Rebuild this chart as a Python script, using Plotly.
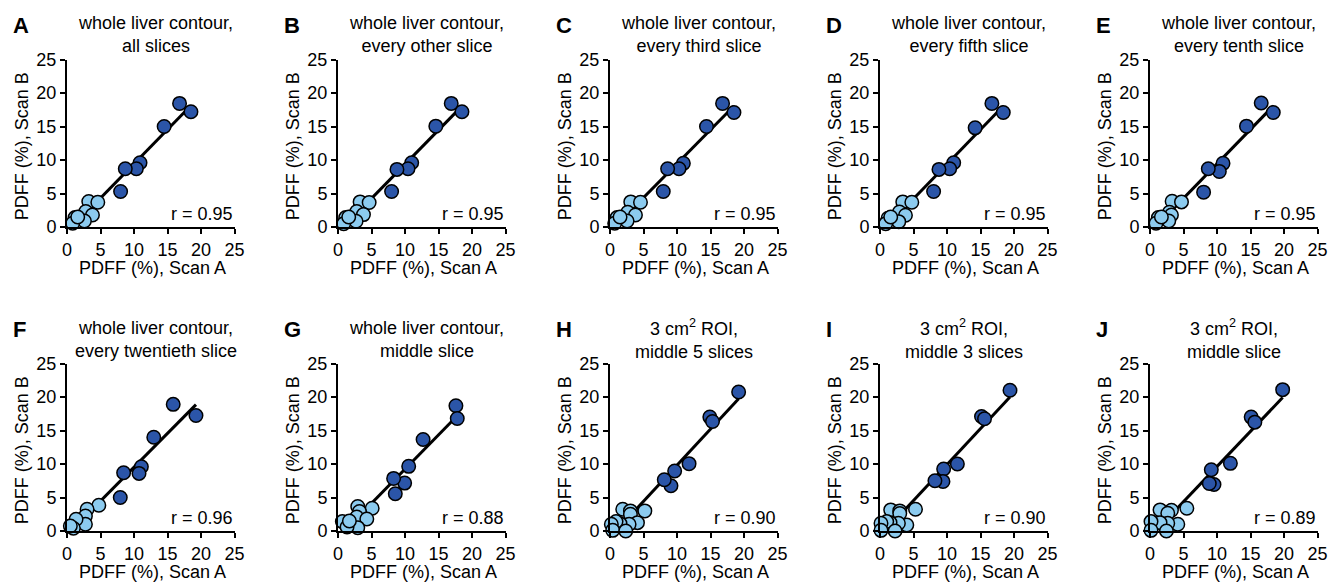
import numpy as np
import plotly.graph_objects as go
from plotly.subplots import make_subplots

# panel labels, titles and correlation coefficients
letters = ['A', 'B', 'C', 'D', 'E', 'F', 'G', 'H', 'I', 'J']
titles = ['whole liver contour,<br>all slices',
          'whole liver contour,<br>every other slice',
          'whole liver contour,<br>every third slice',
          'whole liver contour,<br>every fifth slice',
          'whole liver contour,<br>every tenth slice',
          'whole liver contour,<br>every twentieth slice',
          'whole liver contour,<br>middle slice',
          '3 cm<sup>2</sup> ROI,<br>middle 5 slices',
          '3 cm<sup>2</sup> ROI,<br>middle 3 slices',
          '3 cm<sup>2</sup> ROI,<br>middle slice']
r_labels = ['r = 0.95', 'r = 0.95', 'r = 0.95', 'r = 0.95', 'r = 0.95',
            'r = 0.96', 'r = 0.88', 'r = 0.90', 'r = 0.90', 'r = 0.89']
ticks = [0, 5, 10, 15, 20, 25]

# PDFF values (%), Scan A (x) vs Scan B (y); hi = dark markers, lo = light markers
a_hi_x = [16.8, 18.5, 14.5, 10.9, 10.35, 8.7, 8.0]
a_hi_y = [18.45, 17.2, 15.0, 9.6, 8.7, 8.7, 5.3]
a_lo_x = [3.25, 4.6, 2.8, 3.8, 2.6, 1.2, 0.85, 1.6]
a_lo_y = [3.8, 3.7, 2.3, 1.8, 0.9, 1.4, 0.55, 1.5]

b_hi_x = [16.9, 18.5, 14.6, 11.0, 10.45, 8.8, 8.0]
b_hi_y = [18.45, 17.2, 15.05, 9.6, 8.7, 8.6, 5.3]
b_lo_x = [3.3, 4.65, 2.8, 3.8, 2.7, 1.15, 0.85, 1.6]
b_lo_y = [3.75, 3.65, 2.3, 1.85, 0.85, 1.4, 0.5, 1.5]

c_hi_x = [16.8, 18.5, 14.4, 10.95, 10.3, 8.6, 7.95]
c_hi_y = [18.45, 17.1, 15.0, 9.5, 8.7, 8.7, 5.3]
c_lo_x = [3.1, 4.55, 2.65, 3.8, 2.55, 1.05, 0.7, 1.5]
c_lo_y = [3.75, 3.7, 2.2, 1.8, 0.9, 1.4, 0.55, 1.5]

d_hi_x = [16.7, 18.4, 14.2, 11.0, 10.4, 8.8, 8.0]
d_hi_y = [18.45, 17.1, 14.8, 9.6, 8.7, 8.6, 5.3]
d_lo_x = [3.4, 4.75, 2.9, 3.8, 2.8, 1.2, 0.85, 1.6]
d_lo_y = [3.75, 3.7, 2.25, 1.75, 0.8, 1.3, 0.5, 1.5]

e_hi_x = [16.6, 18.4, 14.4, 10.9, 10.35, 8.7, 8.0]
e_hi_y = [18.5, 17.1, 15.05, 9.5, 8.3, 8.7, 5.2]
e_lo_x = [3.3, 4.7, 2.9, 3.2, 2.8, 1.25, 0.9, 1.7]
e_lo_y = [3.85, 3.75, 2.2, 1.8, 0.9, 1.4, 0.55, 1.5]

f_hi_x = [15.85, 19.25, 12.95, 11.1, 10.75, 8.45, 7.95]
f_hi_y = [18.9, 17.25, 14.0, 9.6, 8.6, 8.7, 5.0]
f_lo_x = [4.75, 3.0, 2.75, 2.75, 1.35, 0.95, 0.5]
f_lo_y = [3.85, 3.25, 2.25, 1.0, 1.75, 0.4, 0.75]

g_hi_x = [17.6, 17.8, 12.7, 10.55, 9.95, 8.3, 8.55]
g_hi_y = [18.7, 16.8, 13.65, 9.65, 7.15, 7.85, 5.55]
g_lo_x = [5.1, 2.95, 3.2, 2.8, 4.3, 2.95, 0.65, 1.35, 1.7]
g_lo_y = [3.4, 3.65, 2.9, 2.1, 1.8, 0.5, 1.4, 0.6, 1.5]

h_hi_x = [19.2, 14.9, 15.3, 11.8, 9.65, 9.1, 8.1]
h_hi_y = [20.75, 17.0, 16.35, 10.05, 8.95, 6.75, 7.65]
h_lo_x = [5.2, 1.9, 3.05, 3.05, 4.1, 2.85, 1.5, 0.9, 0.2, 0.4, 2.35]
h_lo_y = [3.0, 3.25, 3.0, 2.5, 1.25, 1.0, 1.1, 1.4, 1.0, 0.1, 0.0]

i_hi_x = [19.4, 15.15, 15.6, 11.55, 9.5, 9.4, 8.2]
i_hi_y = [21.0, 17.1, 16.75, 10.0, 9.25, 7.4, 7.5]
i_lo_x = [5.3, 1.6, 2.95, 2.95, 4.0, 2.75, 1.5, 1.0, 0.15, 0.15, 2.25]
i_lo_y = [3.25, 3.15, 3.0, 2.6, 0.9, 1.15, 1.25, 1.4, 1.15, 0.1, 0.0]

j_hi_x = [19.8, 15.1, 15.65, 12.0, 9.15, 9.55, 8.85]
j_hi_y = [21.1, 17.0, 16.25, 10.1, 9.15, 6.95, 7.1]
j_lo_x = [5.5, 1.5, 3.2, 2.65, 4.15, 2.65, 1.5, 0.15, 0.15, 2.45]
j_lo_y = [3.4, 3.15, 3.1, 2.65, 1.0, 1.15, 1.25, 1.4, 0.1, 0.0]

panels = [(a_hi_x, a_hi_y, a_lo_x, a_lo_y), (b_hi_x, b_hi_y, b_lo_x, b_lo_y),
          (c_hi_x, c_hi_y, c_lo_x, c_lo_y), (d_hi_x, d_hi_y, d_lo_x, d_lo_y),
          (e_hi_x, e_hi_y, e_lo_x, e_lo_y), (f_hi_x, f_hi_y, f_lo_x, f_lo_y),
          (g_hi_x, g_hi_y, g_lo_x, g_lo_y), (h_hi_x, h_hi_y, h_lo_x, h_lo_y),
          (i_hi_x, i_hi_y, i_lo_x, i_lo_y), (j_hi_x, j_hi_y, j_lo_x, j_lo_y)]

# the page puts an 8px body margin round the figure, so size and place for it
OFF = 8
W, H = 1339 - OFF, 582 - OFF
FONT = 'Arial, Liberation Sans, sans-serif'
DARK = '#2b55a8'
LIGHT = '#8ccbef'

# plot-area pixel positions on screen (left edges of columns, top edges of rows)
col_left = [67, 338, 610, 880, 1150]
row_top = [59.5, 363.5]
side = 167.5


def px(v):
    return (v - OFF) / W


def py(v):
    return 1 - (v - OFF) / H


fig = make_subplots(rows=2, cols=5)

for k, (hx, hy, lx, ly) in enumerate(panels):
    row, col = k // 5 + 1, k % 5 + 1
    # regression line over all points
    all_x = np.array(hx + lx)
    all_y = np.array(hy + ly)
    slope, icept = np.polyfit(all_x, all_y, 1)
    xs = np.array([all_x.min(), all_x.max()])
    fig.add_trace(go.Scatter(x=xs, y=slope * xs + icept, mode='lines',
                             line=dict(color='black', width=3), showlegend=False,
                             cliponaxis=False), row=row, col=col)
    fig.add_trace(go.Scatter(x=lx, y=ly, mode='markers', showlegend=False, cliponaxis=False,
                             marker=dict(size=13.5, color=LIGHT, line=dict(color='black', width=1.5))),
                  row=row, col=col)
    fig.add_trace(go.Scatter(x=hx, y=hy, mode='markers', showlegend=False, cliponaxis=False,
                             marker=dict(size=13.5, color=DARK, line=dict(color='black', width=1.5))),
                  row=row, col=col)

    x0 = col_left[col - 1]
    y0 = row_top[row - 1]
    sfx = '' if k == 0 else str(k + 1)
    fig.layout['xaxis' + sfx].update(domain=[px(x0), px(x0 + side)])
    fig.layout['yaxis' + sfx].update(domain=[py(y0 + side), py(y0)])

    cx = px(x0 + side / 2)
    shift = 5 if k < 7 else 0
    fig.add_annotation(text=titles[k], x=cx, y=py(y0 - 24.5), xref='paper', yref='paper',
                       xanchor='center', yanchor='middle', showarrow=False, xshift=shift,
                       font=dict(size=18, family=FONT, color='black'))
    fig.add_annotation(text='<b>' + letters[k] + '</b>', x=px(x0 - 56), y=py(y0 - 34),
                       xref='paper', yref='paper', xanchor='left', yanchor='middle', showarrow=False,
                       font=dict(size=22, family=FONT, color='black'))
    fig.add_annotation(text='PDFF (%), Scan A', x=cx, y=py(y0 + side + 41),
                       xref='paper', yref='paper', xanchor='center', yanchor='middle',
                       showarrow=False, xshift=2,
                       font=dict(size=18, family=FONT, color='black'))
    fig.add_annotation(text='PDFF (%), Scan B', x=px(x0 - 45), y=py(y0 + side / 2 + 3),
                       xref='paper', yref='paper', xanchor='center', yanchor='middle',
                       showarrow=False, textangle=-90,
                       font=dict(size=18, family=FONT, color='black'))
    fig.add_annotation(text=r_labels[k], x=25, y=1.9, xref='x' + sfx, yref='y' + sfx,
                       xanchor='right', yanchor='middle', showarrow=False,
                       font=dict(size=18, family=FONT, color='black'))

fig.update_xaxes(range=[0, 25], tickvals=ticks, showline=True, linecolor='black', linewidth=2,
                 ticks='outside', ticklen=5, tickwidth=2, tickcolor='black', showgrid=False,
                 zeroline=False, automargin=False,
                 tickfont=dict(size=18, family=FONT, color='black'), fixedrange=True)
fig.update_yaxes(range=[0, 25], tickvals=ticks, showline=True, linecolor='black', linewidth=2,
                 ticks='outside', ticklen=5, tickwidth=2, tickcolor='black', showgrid=False,
                 zeroline=False, automargin=False,
                 tickfont=dict(size=18, family=FONT, color='black'), fixedrange=True)

fig.update_layout(width=W, height=H, margin=dict(l=0, r=0, t=0, b=0),
                  plot_bgcolor='white', paper_bgcolor='white', showlegend=False)

fig.write_html('out.html')
